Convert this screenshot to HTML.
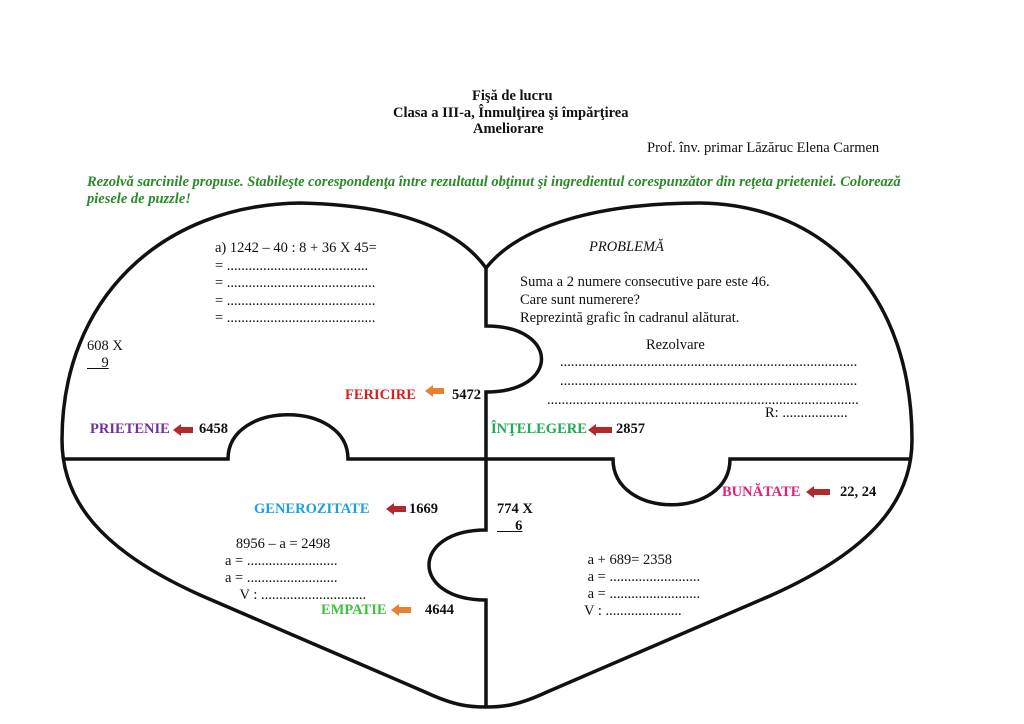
<!DOCTYPE html>
<html><head><meta charset="utf-8"><style>
body{margin:0;width:1024px;height:724px;background:#fff;overflow:hidden;position:relative;font-family:"Liberation Serif",serif;font-size:14.5px;color:#111}
.t{position:absolute;white-space:nowrap}
.b{font-weight:bold}
svg{position:absolute;left:0;top:0}
</style></head><body>
<svg width="1024" height="724">
<g fill="none" stroke="#111" stroke-width="3.5">
<path d="M486,268 C455,225 390,205 300,203 C160,205 62,300 62,440 C62,500 100,550 200,595 L425,692 C455,706 470,707 486,707 C502,707 517,706 547,692 L772,595 C872,550 912,500 912,440 C912,300 830,205 700,203 C600,203 520,225 486,268 Z"/>
<path d="M486,268 L486,326 C560,326 560,392 486,392 L486,530 C410,530 410,600 486,600 L486,707"/>
<path d="M62,459 L228,459 C228,400 348,400 348,459 L613,459 C613,520 730,520 730,459 L912,459"/>
</g>
<g>
<path d="M425,391 l8,-6 v3 h11 v6 h-11 v3 z" fill="#e9802f"/>
<path d="M173,430 l8,-6 v3 h12 v6 h-12 v3 z" fill="#b3282d"/>
<path d="M588,430 l8,-6 v3 h16 v6 h-16 v3 z" fill="#b3282d"/>
<path d="M806,492 l8,-6 v3 h16 v6 h-16 v3 z" fill="#b3282d"/>
<path d="M386,509 l8,-6 v3 h12 v6 h-12 v3 z" fill="#b3282d"/>
<path d="M391,610 l8,-6 v3 h12 v6 h-12 v3 z" fill="#e9802f"/>
</g>
</svg>
<div class="t b" style="left:472px;top:88px">Fişă de lucru</div>
<div class="t b" style="left:393px;top:105px">Clasa a III-a, Înmulţirea şi împărţirea</div>
<div class="t b" style="left:473px;top:121px">Ameliorare</div>
<div class="t" style="left:647px;top:140px">Prof. înv. primar Lăzăruc Elena Carmen</div>
<div class="t b" style="left:87px;top:174px;color:#2a8a2a;font-style:italic;white-space:normal;width:850px;line-height:17px">Rezolvă sarcinile propuse. Stabileşte corespondenţa între rezultatul obţinut şi ingredientul corespunzător din reţeta prieteniei. Colorează piesele de puzzle!</div>
<div class="t" style="left:215px;top:240px;line-height:17.5px">a) 1242 – 40 : 8 + 36 X 45=<br>= .......................................<br>= .........................................<br>= .........................................<br>= .........................................</div>
<div class="t" style="left:87px;top:338px;line-height:17px">608 X<br><u>&nbsp;&nbsp;&nbsp;&nbsp;9</u></div>
<div class="t b" style="left:345px;top:387px;color:#d62020">FERICIRE</div>
<div class="t b" style="left:452px;top:387px">5472</div>
<div class="t b" style="left:90px;top:421px;color:#7030a0">PRIETENIE</div>
<div class="t b" style="left:199px;top:421px">6458</div>
<div class="t" style="left:589px;top:239px;font-style:italic">PROBLEMĂ</div>
<div class="t" style="left:520px;top:273px;line-height:18px">Suma a 2 numere consecutive pare este 46.<br>Care sunt numerere?<br>Reprezintă grafic în cadranul alăturat.</div>
<div class="t" style="left:646px;top:337px">Rezolvare</div>
<div class="t" style="left:560px;top:353px;line-height:19px">..................................................................................<br>..................................................................................<br><span style="margin-left:-13px">......................................................................................</span></div>
<div class="t" style="left:765px;top:405px">R: ..................</div>
<div class="t b" style="left:491px;top:421px;color:#1faa55">ÎNŢELEGERE</div>
<div class="t b" style="left:616px;top:421px">2857</div>
<div class="t b" style="left:722px;top:484px;color:#e0207a">BUNĂTATE</div>
<div class="t b" style="left:840px;top:484px">22, 24</div>
<div class="t b" style="left:254px;top:501px;color:#1ea0dc">GENEROZITATE</div>
<div class="t b" style="left:409px;top:501px">1669</div>
<div class="t b" style="left:497px;top:501px;line-height:17px">774 X<br><u>&nbsp;&nbsp;&nbsp;&nbsp;&nbsp;6</u></div>
<div class="t" style="left:225px;top:536px;line-height:17px">&nbsp;&nbsp;&nbsp;8956 – a = 2498<br>a = .........................<br>a = .........................<br>&nbsp;&nbsp;&nbsp;&nbsp;V : .............................</div>
<div class="t b" style="left:321px;top:602px;color:#3cc23c">EMPATIE</div>
<div class="t b" style="left:425px;top:602px">4644</div>
<div class="t" style="left:584px;top:552px;line-height:17px">&nbsp;a + 689= 2358<br>&nbsp;a = .........................<br>&nbsp;a = .........................<br>V : .....................</div>
</body></html>
